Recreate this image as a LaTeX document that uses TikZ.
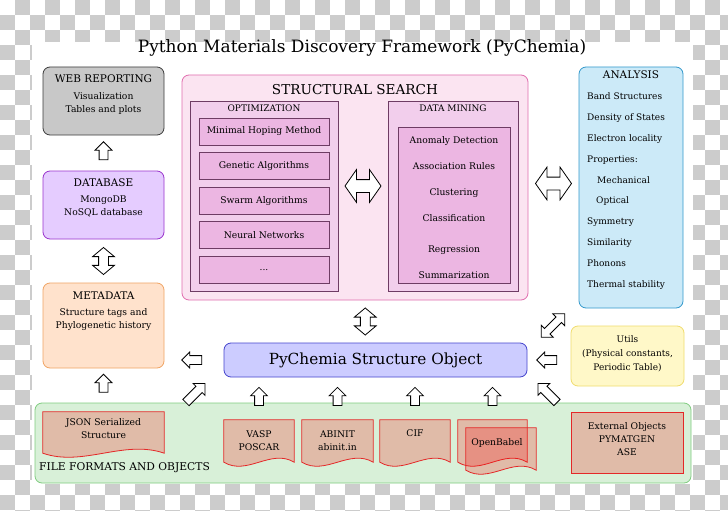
\documentclass[tikz,border=0pt]{standalone}
\usepackage{fontspec}
\setmainfont{DejaVu Serif}
\usetikzlibrary{calc,positioning,shapes.arrows}

\definecolor{checkgray}{RGB}{204,204,204}
\definecolor{webfill}{RGB}{200,200,200}
\definecolor{webline}{RGB}{60,60,60}
\definecolor{dbfill}{RGB}{229,204,255}
\definecolor{dbline}{RGB}{153,51,204}
\definecolor{metafill}{RGB}{255,226,204}
\definecolor{metaline}{RGB}{240,164,100}
\definecolor{searchfill}{RGB}{251,228,241}
\definecolor{searchline}{RGB}{225,110,175}
\definecolor{groupfill}{RGB}{242,206,236}
\definecolor{itemfill}{RGB}{236,182,226}
\definecolor{groupline}{RGB}{110,60,100}
\definecolor{anafill}{RGB}{204,234,248}
\definecolor{analine}{RGB}{51,153,204}
\definecolor{utilfill}{RGB}{255,248,200}
\definecolor{utilline}{RGB}{240,220,110}
\definecolor{psofill}{RGB}{204,204,255}
\definecolor{psoline}{RGB}{68,68,204}
\definecolor{filefill}{RGB}{216,240,216}
\definecolor{fileline}{RGB}{128,204,128}
\definecolor{docline}{RGB}{228,40,40}

\tikzset{
  box/.style={draw, line width=0.8pt, rounded corners=7pt, inner sep=0pt},
  sqbox/.style={draw, line width=0.7pt, inner sep=0pt},
  frame/.style={inner sep=0pt},
  head/.style={inner sep=0pt, font=\fontsize{10.5}{12}\selectfont},
  subhead/.style={inner sep=0pt, font=\fontsize{9}{10}\selectfont},
  txt/.style={inner sep=0pt, align=center, font=\fontsize{9.2}{13}\selectfont},
  item/.style={sqbox, draw=groupline, fill=itemfill, minimum width=130, minimum height=27, font=\fontsize{9.2}{10}\selectfont},
  doc/.style={draw=docline, fill=red, fill opacity=0.22, line width=0.8pt},
  uparr/.style={draw, fill=white, line width=0.8pt, single arrow, single arrow head extend=4pt,
    inner sep=4pt, minimum width=16pt, minimum height=18pt, shape border rotate=90},
  leftarr/.style={uparr, shape border rotate=180, minimum height=20pt, minimum width=15pt, single arrow head extend=3.5pt},
  diagarr/.style={uparr, shape border rotate=0, minimum height=27pt},
  dblh/.style={draw, fill=white, line width=0.8pt, double arrow, double arrow head extend=10pt,
    double arrow tip angle=110, inner sep=6pt, minimum width=32pt, minimum height=36pt},
  dblv/.style={dblh, double arrow head extend=6pt, double arrow tip angle=100, inner sep=4.5pt,
    minimum width=21pt, minimum height=27pt, shape border rotate=90},
  dbld/.style={dblh, double arrow head extend=4.5pt, double arrow tip angle=90, inner sep=3.5pt,
    minimum width=16pt, minimum height=33pt}
}

% wavy bottom of a file shape, drawn round a frame node
\newcommand\docpath[1]{%
  \filldraw[doc] (#1.north west) -- (#1.north east) -- ($(#1.south east)+(0,-5)$)
    .. controls ($(#1.south east)!0.33!(#1.south west)+(0,-19)$) and ($(#1.south west)!0.33!(#1.south east)+(0,9)$) .. ($(#1.south west)+(0,-5)$) -- cycle;}

\begin{document}
\begin{tikzpicture}[x=1pt,y=-1pt]
		%%%%% BACKGROUND %%%%%
		\useasboundingbox (0,0) rectangle (728,511);
		\foreach \r in {0,...,34}{
			\foreach \c in {0,...,48}{
				\pgfmathparse{int(mod(\r+\c,2))}
				\ifnum\pgfmathresult=1 \fill[checkgray] (\c*15,\r*15) rectangle ++(15,15);\fi
			}
		}
		\fill[white] (32,42) rectangle (693,484);
		
		\node[inner sep=0pt, font=\fontsize{17}{19}\selectfont] (title) at (362,48) {Python Materials Discovery Framework (PyChemia)};
		
		%%%%% LEFT COLUMN %%%%%
		\node[box, draw=webline, fill=webfill, minimum width=121, minimum height=68] (web) at (103.5,101) {};
		\node[head] (webhead) at ([yshift=-12pt]web.north) {WEB REPORTING};
		\node[txt] (webtxt) at ([yshift=-36.5pt]web.north) {Visualization\\Tables and plots};
		
		\node[box, draw=dbline, fill=dbfill, minimum width=121, minimum height=68] (db) at (103.5,205) {};
		\node[head] (dbhead) at ([yshift=-12pt]db.north) {DATABASE};
		\node[txt] (dbtxt) at ([yshift=-35.5pt]db.north) {MongoDB\\NoSQL database};
		
		\node[box, draw=metaline, fill=metafill, minimum width=121, minimum height=85] (meta) at (103.5,325.5) {};
		\node[head] (metahead) at ([yshift=-13pt]meta.north) {METADATA};
		\node[txt] (metatxt) at ([yshift=-37pt]meta.north) {Structure tags and\\Phylogenetic history};
		
		%%%%% STRUCTURAL SEARCH %%%%%
		\node[box, draw=searchline, fill=searchfill, minimum width=346, minimum height=225] (search) at (355,187.5) {};
		\node[inner sep=0pt, font=\fontsize{13.6}{15}\selectfont] (searchhead) at ([yshift=-15pt]search.north) {STRUCTURAL SEARCH};
		
		\node[sqbox, draw=groupline, fill=groupfill, minimum width=148, minimum height=190] (opt) at (264,196) {};
		\node[subhead] (opthead) at ([yshift=-8pt]opt.north) {OPTIMIZATION};
		\node[item] (mhm) at (264,131.5) {Minimal Hoping Method};
		\node[item] (ga) at (264,166) {Genetic Algorithms};
		\node[item] (swarm) at (264,201) {Swarm Algorithms};
		\node[item] (nn) at (264,235) {Neural Networks};
		\node[item] (more) at (264,270) {...};
		
		\node[sqbox, draw=groupline, fill=groupfill, minimum width=130, minimum height=190] (dm) at (453,196) {};
		\node[subhead] (dmhead) at ([yshift=-8pt]dm.north) {DATA MINING};
		\node[sqbox, draw=groupline, fill=itemfill, minimum width=112, minimum height=156] (dmbox) at (454,205) {};
		\node[txt, font=\fontsize{9.2}{26}\selectfont] (dmlist) at (454,207.5) {Anomaly Detection\\Association Rules\\Clustering\\Classification\\[5pt]Regression\\Summarization};
		
		\node[dblh] (optdm) at ([yshift=10pt]$(opt.east)!0.5!(dm.west)$) {};
		
		%%%%% RIGHT COLUMN %%%%%
		\node[box, draw=analine, fill=anafill, minimum width=104, minimum height=241] (analysis) at (631,187.5) {};
		\node[head] (anahead) at ([yshift=-8.5pt]analysis.north) {ANALYSIS};
		\node[txt, align=left, anchor=west, font=\fontsize{9}{20.8}\selectfont] (analist) at (587,191) {Band Structures\\Density of States\\Electron locality\\Properties:\\\hspace*{10pt}Mechanical\\\hspace*{9pt}Optical\\Symmetry\\Similarity\\Phonons\\Thermal stability};
		
		\node[box, draw=utilline, fill=utilfill, minimum width=113, minimum height=60] (utils) at (627.5,356) {};
		\node[txt, font=\fontsize{9}{14}\selectfont] (utiltxt) at (627.5,354) {Utils\\(Physical constants,\\Periodic Table)};
		
		\node[dblh] (searchana) at ([yshift=4pt]$(search.east)!0.5!(analysis.west)$) {};
		
		%%%%% STRUCTURE OBJECT %%%%%
		\node[box, draw=psoline, fill=psofill, minimum width=303, minimum height=34, font=\fontsize{15.3}{17}\selectfont] (pso) at (375.5,360) {PyChemia Structure Object};
		
		%%%%% FILE FORMATS %%%%%
		\node[box, draw=fileline, fill=filefill, minimum width=656, minimum height=80] (files) at (363,443) {};
		\node[inner sep=0pt, anchor=west, font=\fontsize{10.7}{12}\selectfont] (fileshead) at (39,468) {FILE FORMATS AND OBJECTS};
		
		\node[frame, minimum width=121, minimum height=46] (json) at (103.5,435) {};
		\docpath{json}
		\node[txt] (jsontxt) at (103.5,428.5) {JSON Serialized\\Structure};
		
		\node[frame, minimum width=70, minimum height=47] (vasp) at (259,443.5) {};
		\docpath{vasp}
		\node[txt] (vasptxt) at (259,440.5) {VASP\\POSCAR};
		
		\node[frame, minimum width=71, minimum height=47] (abinit) at (337.5,443.5) {};
		\docpath{abinit}
		\node[txt] (abinittxt) at (337.5,440.5) {ABINIT\\abinit.in};
		
		\node[frame, minimum width=70, minimum height=47] (cif) at (415,443.5) {};
		\docpath{cif}
		\node[txt] (ciftxt) at (415,433) {CIF};
		
		\node[frame, minimum width=69, minimum height=47] (babelA) at (492.5,443.5) {};
		\docpath{babelA}
		\node[frame, minimum width=70, minimum height=47] (babelB) at (501,451.5) {};
		\docpath{babelB}
		\node[txt] (babeltxt) at (497,443) {OpenBabel};
		
		\node[sqbox, draw=docline, fill=red, fill opacity=0.22, line width=0.8pt, minimum width=112, minimum height=61] (ext) at (627,442.5) {};
		\node[txt] (exttxt) at (627,439) {External Objects\\PYMATGEN\\ASE};
		
		%%%%% ARROWS %%%%%
		\node[uparr] (a1) at ($(web.south)!0.5!(db.north)$) {};
		\node[dblv] (a2) at ($(db.south)!0.5!(meta.north)$) {};
		\node[uparr] (a3) at ($(meta.south)!0.5!(meta.south |- files.north)$) {};
		\node[dblv] (a4) at ($(search.south)!0.5!(pso.north)$) {};
		\node[leftarr] (a5) at ($(pso.west)!0.5!(meta.east |- pso.west)$) {};
		\node[leftarr] (a6) at ($(utils.west |- pso.east)!0.5!(pso.east)$) {};
		\node[dbld, rotate=45] (a7) at ($(pso.north east)!0.5!(analysis.south west)$) {};
		\node[diagarr, rotate=45] (a8) at ($(json.north east)!0.5!(pso.south west)$) {};
		\node[diagarr, rotate=135] (a9) at ($(ext.north west)!0.5!(pso.south east)$) {};
		\node[uparr] (a10) at ($(vasp.north |- pso.south)!0.5!(vasp.north)$) {};
		\node[uparr] (a11) at ($(abinit.north |- pso.south)!0.5!(abinit.north)$) {};
		\node[uparr] (a12) at ($(cif.north |- pso.south)!0.5!(cif.north)$) {};
		\node[uparr] (a13) at ($(babelA.north |- pso.south)!0.5!(babelA.north)$) {};
		
		%%%%% END %%%%%
	\end{tikzpicture}
\end{document}
